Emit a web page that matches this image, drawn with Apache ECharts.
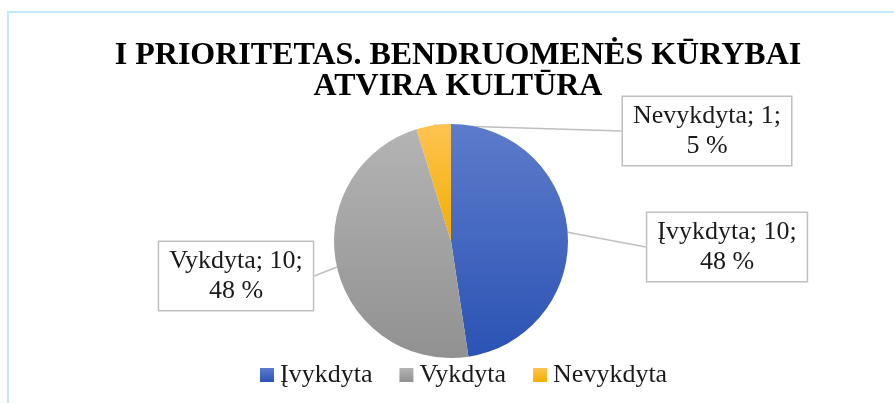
<!DOCTYPE html>
<html>
<head>
<meta charset="utf-8">
<style>
  html, body { margin: 0; padding: 0; background: #fff; }
  #chart { width: 894px; height: 403px; }
</style>
<script src="https://cdn.jsdelivr.net/npm/echarts@6/dist/echarts.min.js"></script>
</head>
<body>
<div id="chart"></div>
<script>
// Task status counts for priority I
const categories = ['Įvykdyta', 'Vykdyta', 'Nevykdyta'];
const counts = [10, 10, 1];

const FONT = "'Liberation Serif', 'Times New Roman', serif";
const total = counts.reduce((a, b) => a + b, 0);

function vgrad(top, bottom) {
  return new echarts.graphic.LinearGradient(0, 0, 0, 1, [
    { offset: 0, color: top },
    { offset: 1, color: bottom }
  ]);
}
const sliceColors = [
  vgrad('#5d7bcb', '#2b53b4'),
  vgrad('#b4b4b4', '#919191'),
  vgrad('#fdc352', '#f4ae00')
];

// Callout box centres for each slice label
const calloutPos = [
  { x: 727, y: 247 },
  { x: 236, y: 276 },
  { x: 707, y: 131 }
];

const chart = echarts.init(document.getElementById('chart'), null, { renderer: 'canvas' });

chart.setOption({
  animation: false,
  backgroundColor: '#ffffff',
  graphic: [{
    type: 'rect',
    shape: { x: 8, y: 12, width: 1000, height: 1000 },
    style: { fill: 'none', stroke: '#c3e8fa', lineWidth: 2 },
    silent: true
  }],
  title: {
    text: 'I PRIORITETAS. BENDRUOMENĖS KŪRYBAI\nATVIRA KULTŪRA',
    left: 453,
    top: 35,
    textAlign: 'center',
    textStyle: {
      fontFamily: FONT,
      fontWeight: 'bold',
      fontSize: 32,
      lineHeight: 31,
      color: '#000'
    }
  },
  legend: {
    data: categories,
    left: 255,
    top: 357,
    itemWidth: 14,
    itemHeight: 14,
    itemGap: 27,
    icon: 'rect',
    textStyle: { fontFamily: FONT, fontSize: 26, color: '#1a1a1a', padding: [0, 0, 0, 1] }
  },
  series: [{
    type: 'pie',
    center: [451, 241],
    radius: 117,
    startAngle: 90,
    clockwise: true,
    data: categories.map((name, i) => ({
      name,
      value: counts[i],
      itemStyle: { color: sliceColors[i] }
    })),
    label: {
      show: true,
      formatter: function (p) {
        return p.name + '; ' + p.value + ';\n' + Math.round(p.value / total * 100) + ' %';
      },
      fontFamily: FONT,
      fontSize: 26,
      lineHeight: 30,
      color: '#1a1a1a',
      align: 'center',
      backgroundColor: '#ffffff',
      borderColor: '#bfbfbf',
      borderWidth: 1.5,
      padding: [4, 10]
    },
    labelLine: {
      show: true,
      length2: 0,
      lineStyle: { color: '#bfbfbf', width: 1.5 }
    },
    labelLayout: function (params) {
      const p = calloutPos[params.dataIndex];
      return { x: p.x, y: p.y, align: 'center', verticalAlign: 'middle' };
    },
    emphasis: { disabled: true }
  }]
});
</script>
</body>
</html>
